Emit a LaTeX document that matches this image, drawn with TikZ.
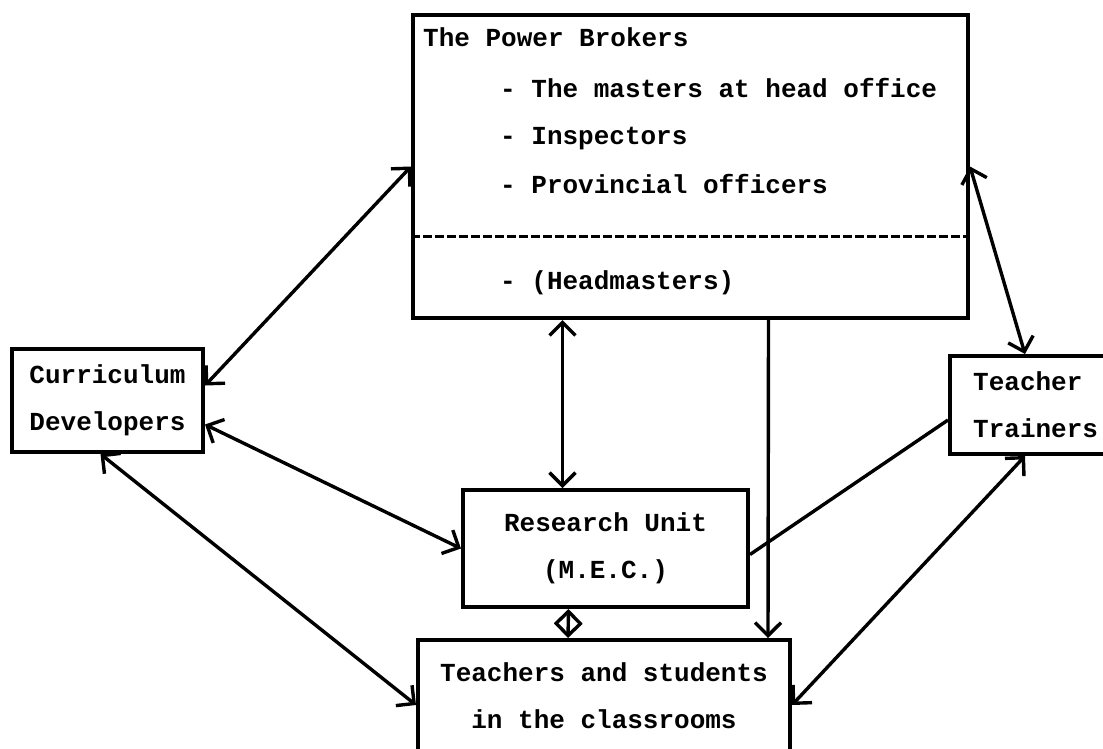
\documentclass[tikz,border=0pt]{standalone}
\usepackage{fontspec}
\setmonofont{Liberation Mono}
\usetikzlibrary{arrows.meta}

\begin{document}
\begin{tikzpicture}[x=1pt,y=1pt,
    every node/.style={font={\ttfamily\bfseries\fontsize{26}{47}\selectfont}},
    box/.style={draw,line width=4pt,inner sep=0pt,align=center},
    link/.style={line width=3.4pt},
    both/.style={link,{Straight Barb[length=13pt,width=26pt]}-{Straight Barb[length=13pt,width=26pt]}},
    one/.style={link,-{Straight Barb[length=13pt,width=26pt]}}]
  \useasboundingbox (0,0) rectangle (1103,-748);

  % the power brokers
  \node[box,minimum width=555pt,minimum height=303pt] (pb) at (690.5,-166.5) {};
  \draw[line width=3.4pt,dash pattern=on 9pt off 3pt] ([yshift=-70pt]pb.west) -- ([yshift=-70pt]pb.east);
  \node[anchor=base west,inner sep=0pt] (pbtitle) at (423,-46) {The Power Brokers};
  \foreach[count=\i] \v/\y in {The masters at head office/97,Inspectors/144,Provincial officers/193,(Headmasters)/289} {
    \node[anchor=base west,inner sep=0pt] (pbitem\i) at (500,-\y) {- \v};
  }

  \node[box,minimum width=191pt,minimum height=103pt] (cd) at (107.5,-400.5) {Curriculum\\Developers};
  \node[box,minimum width=160pt,minimum height=98pt] (tt) at (1030,-405) {};
  \node[anchor=west,inner sep=0pt,align=left] (ttlabel) at ([xshift=25pt]tt.west) {Teacher\\Trainers};
  \node[box,minimum width=285pt,minimum height=117pt] (ru) at (605.5,-548.5) {Research Unit\\(M.E.C.)};
  \node[box,minimum width=372pt,minimum height=112pt] (ts) at (604,-696) {Teachers and students\\in the classrooms};

  % connectors
  \draw[both] ([yshift=15pt]cd.east) -- (pb.west);
  \draw[both] ([yshift=-24pt]cd.east) -- (ru.west);
  \draw[both] ([xshift=-7pt]cd.south) -- ([yshift=-9pt]ts.west);
  \draw[both] ([xshift=-128pt]pb.south) -- ([xshift=-43pt]ru.north);
  \draw[one] ([xshift=78pt]pb.south) -- ([xshift=164pt]ts.north);
  \draw[both] (pb.east) -- ([xshift=-5pt]tt.north);
  \draw[link] ([yshift=-15pt]tt.west) -- ([yshift=-6pt]ru.east);
  \draw[both] ([xshift=-5pt]tt.south) -- ([yshift=-9pt]ts.east);
  \draw[both] ([xshift=-37pt]ru.south) -- ([xshift=-36pt]ts.north);
\end{tikzpicture}
\end{document}
